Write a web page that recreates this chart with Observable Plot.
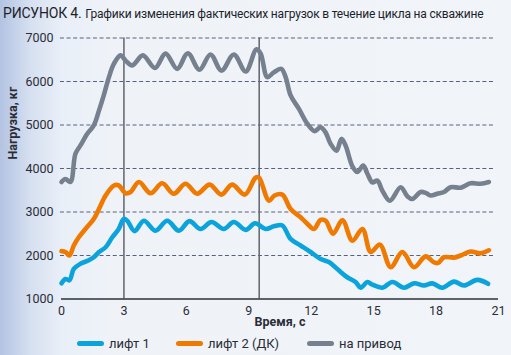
<!DOCTYPE html>
<html>
<head>
<meta charset="utf-8">
<script src="https://cdn.jsdelivr.net/npm/d3@7"></script>
<script src="https://cdn.jsdelivr.net/npm/@observablehq/plot@0.6"></script>
<style>
  html, body { margin: 0; padding: 0; }
  body {
    width: 511px; height: 355px; overflow: hidden;
    background: linear-gradient(to right, #b3c3e3 0%, #d6e0f0 6%, #e9eff8 12%, #eff3f8 22%, #f1f5f9 100%);
    font-family: "Roboto", "Liberation Sans", sans-serif;
    position: relative;
  }
  #title { height: 24px; padding-left: 3px; line-height: 26px; color: #1d1f2b; white-space: nowrap; letter-spacing: -0.2px; }
  #title .a { font-size: 14px; }
  #title .b { font-size: 12px; }
  #legend { position: absolute; top: 334px; left: 0; width: 511px; height: 18px; font-size: 13px; color: #2a2c36; }
  #legend .item { position: absolute; top: 0; display: flex; align-items: center; height: 18px; }
  #legend .sw { width: 27px; height: 5px; border-radius: 3px; margin-right: 5px; }
  svg { display: block; }
</style>
</head>
<body>
<div id="title"><span class="a">РИСУНОК 4.</span> <span class="b">Графики изменения фактических нагрузок в течение цикла на скважине</span></div>
<div id="chart"></div>
<div id="legend"></div>
<script>
// Series names and colours
const seriesNames = ["лифт 1", "лифт 2 (ДК)", "на привод"];
const seriesColors = ["#0ba3dc", "#f07900", "#76808f"];

// Axis ticks
const xTicks = [0, 3, 6, 9, 12, 15, 18, 21];
const yTicks = [1000, 2000, 3000, 4000, 5000, 6000, 7000];
const markerTimes = [3, 9.5];

// лифт 1
const t1 = [0, 0.19, 0.38, 0.59, 0.91, 1.31, 1.55, 1.8, 2.12, 2.44, 2.75, 2.99, 3.16, 3.51, 3.96, 4.52, 5.08, 5.64, 6.15, 6.68, 7.21, 7.8, 8.28, 8.85, 9.3, 9.81, 10.21, 10.61, 11.01, 11.49, 11.97, 12.45, 12.85, 13.25, 13.73, 14.13, 14.38, 14.7, 14.94, 15.42, 15.9, 16.46, 16.94, 17.42, 17.82, 18.3, 18.86, 19.34, 19.98, 20.5];
const lift1 = [1360, 1460, 1430, 1690, 1810, 1890, 1960, 2080, 2190, 2420, 2610, 2840, 2800, 2560, 2800, 2570, 2800, 2570, 2790, 2610, 2770, 2610, 2770, 2590, 2740, 2610, 2670, 2690, 2380, 2230, 2080, 1920, 1850, 1690, 1500, 1390, 1260, 1390, 1330, 1260, 1390, 1260, 1360, 1310, 1360, 1260, 1400, 1310, 1440, 1350];

// лифт 2 (ДК)
const t2 = [0, 0.19, 0.38, 0.59, 0.83, 1.15, 1.55, 1.8, 2.12, 2.52, 2.75, 3.08, 3.32, 3.72, 4.28, 4.84, 5.4, 5.96, 6.52, 7.12, 7.68, 8.2, 8.81, 9.33, 9.49, 9.97, 10.24, 10.61, 11.01, 11.49, 11.81, 12.13, 12.45, 12.69, 13.05, 13.5, 13.98, 14.46, 14.86, 15.3, 15.82, 16.38, 16.94, 17.5, 17.9, 18.1, 18.38, 18.86, 19.18, 19.66, 20.14, 20.54];
const lift2 = [2100, 2080, 2000, 2230, 2420, 2610, 2840, 3070, 3380, 3610, 3610, 3430, 3460, 3690, 3430, 3660, 3420, 3650, 3420, 3630, 3400, 3630, 3400, 3790, 3790, 3260, 3380, 3400, 3070, 2880, 2730, 2610, 2820, 2800, 2500, 2810, 2340, 2610, 2080, 2250, 1730, 2080, 1730, 1980, 1840, 1830, 1960, 1950, 2000, 2090, 2050, 2120];

// на привод
const t3 = [0, 0.19, 0.43, 0.67, 0.91, 1.24, 1.55, 1.8, 2.03, 2.28, 2.52, 2.84, 3.08, 3.4, 3.91, 4.49, 5.0, 5.56, 6.07, 6.63, 7.16, 7.69, 8.28, 8.85, 9.37, 9.57, 9.89, 10.2, 10.56, 10.77, 11.01, 11.41, 11.81, 12.16, 12.45, 12.69, 12.93, 13.22, 13.45, 13.65, 13.98, 14.22, 14.5, 14.7, 14.94, 15.18, 15.42, 15.78, 16.3, 16.62, 16.86, 17.26, 17.5, 17.74, 18.06, 18.38, 18.7, 19.18, 19.66, 20.14, 20.54];
const drive = [3690, 3760, 3690, 4340, 4530, 4800, 4990, 5330, 5680, 6100, 6410, 6600, 6480, 6370, 6600, 6310, 6640, 6290, 6650, 6270, 6620, 6250, 6620, 6230, 6740, 6640, 6100, 6210, 6290, 6100, 5680, 5370, 5030, 4860, 4950, 4830, 4570, 4410, 4680, 4530, 4050, 3920, 4070, 3880, 3680, 3720, 3490, 3260, 3570, 3360, 3300, 3460, 3440, 3380, 3420, 3460, 3570, 3560, 3660, 3650, 3690];

const rows = (ts, vs, s) => ts.map((t, i) => ({t, v: vs[i], s}));
const data = [
  ...rows(t1, lift1, seriesNames[0]),
  ...rows(t2, lift2, seriesNames[1]),
  ...rows(t3, drive, seriesNames[2])
];

const font = '"Roboto", "Liberation Sans", sans-serif';

const plot = Plot.plot({
  width: 511,
  height: 306,
  marginTop: 13.5,
  marginBottom: 31.5,
  marginLeft: 61,
  marginRight: 13,
  style: { background: "transparent", fontFamily: font, fontSize: "12.5px", color: "#2a2c36" },
  x: { domain: [0, 21], ticks: xTicks, tickSize: 0, tickPadding: 7, label: null },
  y: { domain: [1000, 7000], ticks: yTicks, tickSize: 0, tickPadding: 8, label: null },
  color: { domain: seriesNames, range: seriesColors },
  marks: [
    Plot.gridY(yTicks.filter(d => d > 1000), { x1: -0.05, x2: 20.85, stroke: "#56617c", strokeOpacity: 1, strokeDasharray: "4,2.6", strokeWidth: 1 }),
    Plot.ruleX(markerTimes, { y1: 1000, y2: 7000, stroke: "#5f646e", strokeWidth: 1.5 }),
    Plot.ruleY([1000], { stroke: "#2d3038", strokeWidth: 1.3 }),
    Plot.axisX({ ticks: xTicks, tickSize: 0, tickPadding: 7, label: null, tickFormat: d => String(d) }),
    Plot.axisY({ ticks: yTicks, tickSize: 0, tickPadding: 8, label: null, tickFormat: d => String(d) }),
    Plot.line(data, { x: "t", y: "v", z: "s", stroke: "s", strokeWidth: 4.6, curve: "catmull-rom", strokeLinecap: "round", strokeLinejoin: "round" }),
    Plot.text(["Время, с"], { frameAnchor: "bottom", dy: 27, text: d => d, fontWeight: "bold", fontSize: 12.5 }),
    Plot.text(["Нагрузка, кг"], { frameAnchor: "left", dx: -49, dy: -9, rotate: -90, text: d => d, fontWeight: "bold", fontSize: 12.5 })
  ]
});
document.getElementById("chart").appendChild(plot);

// Legend
const legend = document.getElementById("legend");
const legendX = [77, 176, 307];
seriesNames.forEach((name, i) => {
  const item = document.createElement("div");
  item.className = "item";
  item.style.left = legendX[i] + "px";
  const sw = document.createElement("span");
  sw.className = "sw";
  sw.style.background = seriesColors[i];
  const tx = document.createElement("span");
  tx.textContent = name;
  item.appendChild(sw);
  item.appendChild(tx);
  legend.appendChild(item);
});
</script>
</body>
</html>
